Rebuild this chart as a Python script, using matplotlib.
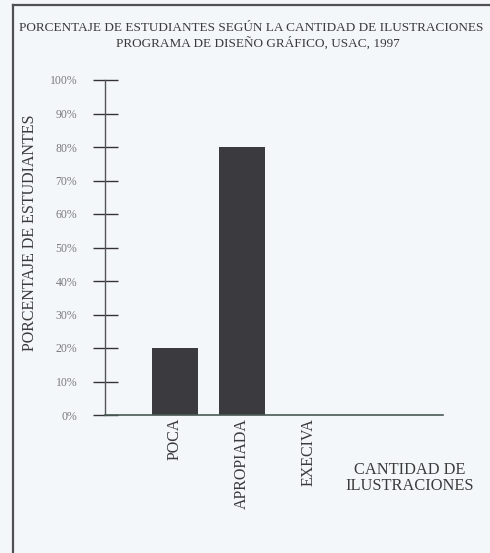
import matplotlib
matplotlib.use("Agg")
import matplotlib.pyplot as plt
from matplotlib.lines import Line2D

categorias = ["POCA", "APROPIADA", "EXECIVA"]
porcentajes = [20, 80, 0]
yticks = [0, 10, 20, 30, 40, 50, 60, 70, 80, 90, 100]
ytick_labels = ["0%", "10%", "20%", "30%", "40%", "50%", "60%", "70%", "80%", "90%", "100%"]

plt.rcParams["font.family"] = ["Liberation Serif", "DejaVu Serif"]

bg = "#f4f7fa"
fig = plt.figure(figsize=(4.9, 5.53), dpi=100, facecolor=bg)

# marco de la pagina (solo izquierda y arriba)
fig.add_artist(Line2D([13 / 490, 13 / 490], [0, 1 - 5 / 553], transform=fig.transFigure,
                      color="#505050", lw=1.6))
fig.add_artist(Line2D([13 / 490, 1], [1 - 5 / 553, 1 - 5 / 553], transform=fig.transFigure,
                      color="#505050", lw=1.6))

fig.text(251 / 490, 1 - 28 / 553, "PORCENTAJE DE ESTUDIANTES SEGÚN LA CANTIDAD DE ILUSTRACIONES",
         ha="center", va="center", fontsize=9.5, color="#3a3a3a")
fig.text(258 / 490, 1 - 43 / 553, "PROGRAMA DE DISEÑO GRÁFICO, USAC, 1997",
         ha="center", va="center", fontsize=9.5, color="#3a3a3a")

ax = fig.add_axes([105 / 490, 1 - 415 / 553, 338 / 490, 335 / 553])
ax.set_facecolor("none")

x = range(len(categorias))
ax.bar(x, porcentajes, width=0.7, color="#3b3a3f")

ax.set_xlim(-1.045, 4.0)
ax.set_ylim(0, 100)
ax.set_yticks(yticks)
ax.set_yticklabels(ytick_labels, fontsize=8.5, color="#7a7a7a")
ax.tick_params(axis="y", direction="inout", length=18, width=1.0, color="#333333", pad=11)
ax.set_xticks(list(x))
ax.set_xticklabels(categorias, rotation=90, fontsize=11.5, color="#3a3a3a")
ax.tick_params(axis="x", length=0, pad=2)

for s in ["top", "right"]:
    ax.spines[s].set_visible(False)
ax.spines["left"].set_color("#555555")
ax.spines["left"].set_linewidth(1.0)
ax.spines["bottom"].set_color("#4a5a55")
ax.spines["bottom"].set_linewidth(1.2)

fig.text(30 / 490, 1 - 233 / 553, "PORCENTAJE DE ESTUDIANTES", rotation=90,
         ha="center", va="center", fontsize=11.5, color="#3a3a3a")
fig.text(410 / 490, 1 - 478 / 553, "CANTIDAD DE\nILUSTRACIONES", ha="center", va="center",
         fontsize=11.8, color="#3a3a3a", linespacing=1.0)

fig.savefig("out.png", dpi=100, facecolor=bg)
